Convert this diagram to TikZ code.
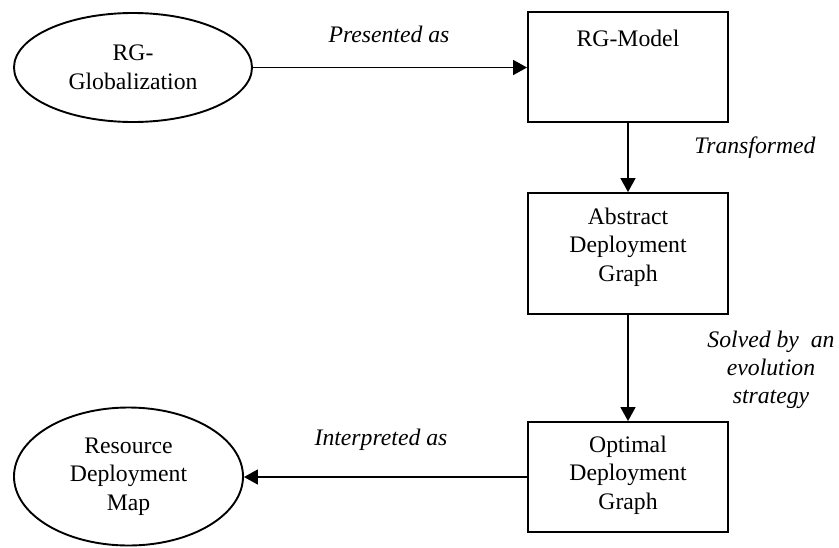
\documentclass[tikz,border=0pt]{standalone}
\usepackage{fontspec}
\setmainfont{Liberation Serif}
\usetikzlibrary{arrows.meta,shapes.geometric}
\begin{document}
\begin{tikzpicture}[x=1pt,y=-1pt,
  every node/.style={font=\fontsize{23.7}{28.5}\selectfont},
  box/.style={draw,line width=1.9pt,rectangle,minimum width=200pt,inner sep=0pt},
  oval/.style={draw,line width=1.9pt,ellipse,inner sep=0pt,align=center},
  txt/.style={inner sep=0pt,align=center},
  lbl/.style={inner sep=0pt,align=center,font=\fontsize{23.7}{28}\selectfont\itshape},
  arr/.style={line width=1.7pt,-{Triangle[length=14pt,width=15pt]}}]
\useasboundingbox (0,0) rectangle (839,547);
% nodes
\node[oval,minimum width=238pt,minimum height=109pt] (glob) at (133,67.5) {RG-\\Globalization};
\node[box,minimum height=110pt] (model) at (628,67) {};
\node[txt] (modelt) at (628,38) {RG-Model};
\node[box,minimum height=121pt] (adg) at (628,253.5) {};
\node[txt] (adgt) at (628,247) {Abstract\\Deployment\\Graph};
\node[box,minimum height=110pt] (odg) at (628,477) {};
\node[txt] (odgt) at (628,475) {Optimal\\Deployment\\Graph};
\node[oval,minimum width=229pt,minimum height=138pt] (rdm) at (128.5,476.5) {Resource\\Deployment\\Map};
% labels
\node[lbl] (l1) at (389,34) {Presented as};
\node[lbl] (l2) at (755,148) {Transformed};
\node[lbl] (l3) at (771,370) {Solved by\ \ an\\evolution\\strategy};
\node[lbl] (l4) at (381,440) {Interpreted as};
% connectors
\draw[arr] (glob.east) -- (glob.east -| model.west);
\draw[arr] (model) -- (adg);
\draw[arr] (adg) -- (odg);
\draw[arr] (odg.west) -- (odg.west -| rdm.east);
\end{tikzpicture}
\end{document}
